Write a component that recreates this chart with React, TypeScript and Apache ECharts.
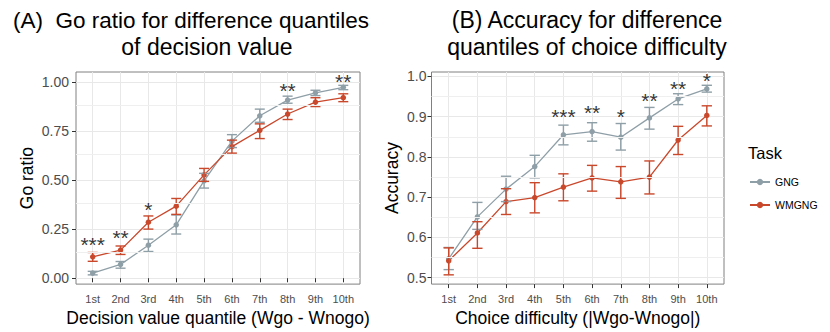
import React, { useEffect, useRef } from "react";
import * as echarts from "echarts";

const quantileLabels = ["1st", "2nd", "3rd", "4th", "5th", "6th", "7th", "8th", "9th", "10th"];
const quantilePositions = [1, 2, 3, 4, 5, 6, 7, 8, 9, 10];

// Panel A: Go ratio
const goGNG = [0.026, 0.070, 0.168, 0.272, 0.496, 0.698, 0.827, 0.907, 0.944, 0.972];
const goGNGLow = [0.017, 0.051, 0.136, 0.225, 0.459, 0.665, 0.794, 0.891, 0.930, 0.960];
const goGNGHigh = [0.035, 0.085, 0.199, 0.322, 0.534, 0.731, 0.861, 0.927, 0.957, 0.982];
const goWM = [0.109, 0.143, 0.285, 0.367, 0.526, 0.670, 0.753, 0.836, 0.897, 0.919];
const goWMLow = [0.086, 0.121, 0.250, 0.325, 0.493, 0.637, 0.711, 0.808, 0.874, 0.899];
const goWMHigh = [0.131, 0.164, 0.317, 0.406, 0.559, 0.703, 0.786, 0.861, 0.919, 0.939];
const goStars = ["***", "**", "*", "", "", "", "", "**", "", "**"];
const goStarY = [0.194, 0.230, 0.372, 0, 0, 0, 0, 0.977, 0, 1.026];
const goTicks = [0, 0.25, 0.5, 0.75, 1.0];
const goMinor = [0.125, 0.375, 0.625, 0.875];

// Panel B: Accuracy
const accGNG = [0.547, 0.651, 0.720, 0.776, 0.855, 0.863, 0.849, 0.897, 0.944, 0.969];
const accGNGLow = [0.520, 0.620, 0.689, 0.748, 0.830, 0.839, 0.817, 0.869, 0.930, 0.961];
const accGNGHigh = [0.575, 0.687, 0.752, 0.804, 0.879, 0.885, 0.883, 0.923, 0.957, 0.978];
const accWM = [0.542, 0.611, 0.689, 0.699, 0.725, 0.748, 0.738, 0.750, 0.842, 0.903];
const accWMLow = [0.507, 0.573, 0.657, 0.661, 0.691, 0.715, 0.697, 0.708, 0.806, 0.877];
const accWMHigh = [0.574, 0.639, 0.721, 0.736, 0.758, 0.779, 0.776, 0.790, 0.876, 0.927];
const accStars = ["", "", "", "", "***", "**", "*", "**", "**", "*"];
const accStarY = [0, 0, 0, 0, 0.911, 0.921, 0.911, 0.952, 0.982, 1.0];
const accTicks = [0.5, 0.6, 0.7, 0.8, 0.9, 1.0];
const accMinor = [0.55, 0.65, 0.75, 0.85, 0.95];

const seriesNames = ["GNG", "WMGNG"];
const COLOR_GNG = "#8f9fa7";
const COLOR_WM = "#c9482c";
const FONT = "'Liberation Sans', Arial, Helvetica, sans-serif";

function pts(vals: number[]) {
  return quantilePositions.map((x, i) => [x, vals[i]]);
}
function errData(low: number[], high: number[]) {
  return quantilePositions.map((x, i) => [x, low[i], high[i]]);
}
function starData(stars: string[], ys: number[]) {
  const out: any[] = [];
  stars.forEach((s, i) => {
    if (s) out.push([quantilePositions[i], ys[i], s]);
  });
  return out;
}

function errorSeries(name: string, data: number[][], color: string, idx: number) {
  return {
    type: "custom",
    name,
    xAxisIndex: idx,
    yAxisIndex: idx,
    z: 4,
    silent: true,
    encode: { x: 0, y: [1, 2] },
    data,
    renderItem: (params: any, api: any) => {
      const x = api.value(0);
      const lo = api.coord([x, api.value(1)]);
      const hi = api.coord([x, api.value(2)]);
      const half = api.size([0.18, 0])[0];
      const st = { stroke: color, lineWidth: 1.4 };
      return {
        type: "group",
        children: [
          { type: "line", shape: { x1: lo[0], y1: lo[1], x2: hi[0], y2: hi[1] }, style: st },
          { type: "line", shape: { x1: lo[0] - half, y1: lo[1], x2: lo[0] + half, y2: lo[1] }, style: st },
          { type: "line", shape: { x1: hi[0] - half, y1: hi[1], x2: hi[0] + half, y2: hi[1] }, style: st },
        ],
      };
    },
  };
}

function lineSeries(name: string, vals: number[], color: string, idx: number) {
  return {
    type: "line",
    name,
    xAxisIndex: idx,
    yAxisIndex: idx,
    z: 3,
    data: pts(vals),
    symbol: "circle",
    symbolSize: 5.5,
    itemStyle: { color },
    lineStyle: { color, width: 1.3 },
  };
}

function minorSeries(idx: number, values: number[]) {
  return {
    type: "line",
    xAxisIndex: idx,
    yAxisIndex: idx,
    data: [],
    silent: true,
    z: 0,
    markLine: {
      silent: true,
      symbol: "none",
      animation: false,
      label: { show: false },
      lineStyle: { color: "#efefef", width: 1, type: "solid" },
      data: values.map((v) => ({ yAxis: v })),
    },
  };
}

function starSeries(idx: number, data: any[]) {
  return {
    type: "scatter",
    xAxisIndex: idx,
    yAxisIndex: idx,
    data,
    symbolSize: 0,
    silent: true,
    z: 6,
    label: {
      show: true,
      position: "inside",
      offset: [0, 4.5],
      formatter: (p: any) => p.data[2],
      color: "#000",
      fontSize: 21,
      fontFamily: FONT,
    },
  };
}

function xAxis(idx: number, name: string) {
  return {
    type: "value",
    gridIndex: idx,
    min: 0.4,
    max: 10.6,
    name,
    nameLocation: "middle",
    nameGap: 24,
    nameTextStyle: { fontSize: 17.5, color: "#000", fontFamily: FONT },
    axisLine: { show: false },
    axisTick: { show: true, length: 4, customValues: quantilePositions, lineStyle: { color: "#333" } },
    axisLabel: {
      customValues: quantilePositions,
      formatter: (v: number) => quantileLabels[Math.round(v) - 1] ?? "",
      fontSize: 11,
      color: "#4d4d4d",
      margin: 9,
      fontFamily: FONT,
    },
    splitLine: { show: true, lineStyle: { color: "#e8e8e8", width: 1 } },
  };
}

function yAxis(idx: number, name: string, min: number, max: number, ticks: number[], digits: number, gap: number, margin: number) {
  return {
    type: "value",
    gridIndex: idx,
    min,
    max,
    name,
    nameLocation: "middle",
    nameGap: gap,
    nameTextStyle: { fontSize: 17.5, color: "#000", fontFamily: FONT },
    axisLine: { show: false },
    axisTick: { show: true, length: 4, customValues: ticks, lineStyle: { color: "#333" } },
    axisLabel: {
      customValues: ticks,
      formatter: (v: number) => v.toFixed(digits),
      fontSize: 14,
      color: "#4d4d4d",
      margin: margin,
      fontFamily: FONT,
    },
    splitLine: { show: true, lineStyle: { color: "#e8e8e8", width: 1 } },
  };
}

export default function App() {
  const ref = useRef<HTMLDivElement>(null);
  useEffect(() => {
    if (!ref.current) return;
    const chart = echarts.init(ref.current, undefined, { renderer: "svg" });
    const titleStyle = { fill: "#000", fontFamily: FONT, textAlign: "center", textVerticalAlign: "middle" };
    chart.setOption({
      animation: false,
      backgroundColor: "#fff",
      textStyle: { fontFamily: FONT },
      grid: [
        { left: 76, top: 72, width: 284, height: 217, show: true, borderColor: "#808080", borderWidth: 1, backgroundColor: "transparent" },
        { left: 431.5, top: 72, width: 292.5, height: 217, show: true, borderColor: "#808080", borderWidth: 1, backgroundColor: "transparent" },
      ],
      xAxis: [xAxis(0, "Decision value quantile (Wgo - Wnogo)"), xAxis(1, "Choice difficulty (|Wgo-Wnogo|)")],
      yAxis: [
        yAxis(0, "Go ratio", -0.03, 1.05, goTicks, 2, 40, 7),
        yAxis(1, "Accuracy", 0.484, 1.011, accTicks, 1, 31, 5),
      ],
      legend: {
        data: seriesNames,
        orient: "vertical",
        left: 749,
        top: 176.5,
        padding: 0,
        itemWidth: 20,
        itemHeight: 8,
        itemGap: 12,
        textStyle: { fontSize: 10.5, color: "#000", fontFamily: FONT },
        selectedMode: false,
      },
      graphic: [
        { type: "text", x: 191, y: 20, style: { ...titleStyle, fontSize: 22.5, text: "(A)  Go ratio for difference quantiles" } },
        { type: "text", x: 207, y: 47, style: { ...titleStyle, fontSize: 23, text: "of decision value" } },
        { type: "text", x: 587, y: 20, style: { ...titleStyle, fontSize: 23, text: "(B) Accuracy for difference" } },
        { type: "text", x: 587, y: 47, style: { ...titleStyle, fontSize: 23, text: "quantiles of choice difficulty" } },
        { type: "text", x: 748, y: 153, style: { text: "Task", fontSize: 16.5, fill: "#000", fontFamily: FONT, textVerticalAlign: "middle" } },
      ],
      series: [
        minorSeries(0, goMinor),
        minorSeries(1, accMinor),
        lineSeries("GNG", goGNG, COLOR_GNG, 0),
        lineSeries("WMGNG", goWM, COLOR_WM, 0),
        errorSeries("GNG", errData(goGNGLow, goGNGHigh), COLOR_GNG, 0),
        errorSeries("WMGNG", errData(goWMLow, goWMHigh), COLOR_WM, 0),
        starSeries(0, starData(goStars, goStarY)),
        lineSeries("GNG", accGNG, COLOR_GNG, 1),
        lineSeries("WMGNG", accWM, COLOR_WM, 1),
        errorSeries("GNG", errData(accGNGLow, accGNGHigh), COLOR_GNG, 1),
        errorSeries("WMGNG", errData(accWMLow, accWMHigh), COLOR_WM, 1),
        starSeries(1, starData(accStars, accStarY)),
      ],
    });
    return () => chart.dispose();
  }, []);
  return <div ref={ref} style={{ width: 830, height: 332, position: "absolute", left: 0, top: 0 }} />;
}
